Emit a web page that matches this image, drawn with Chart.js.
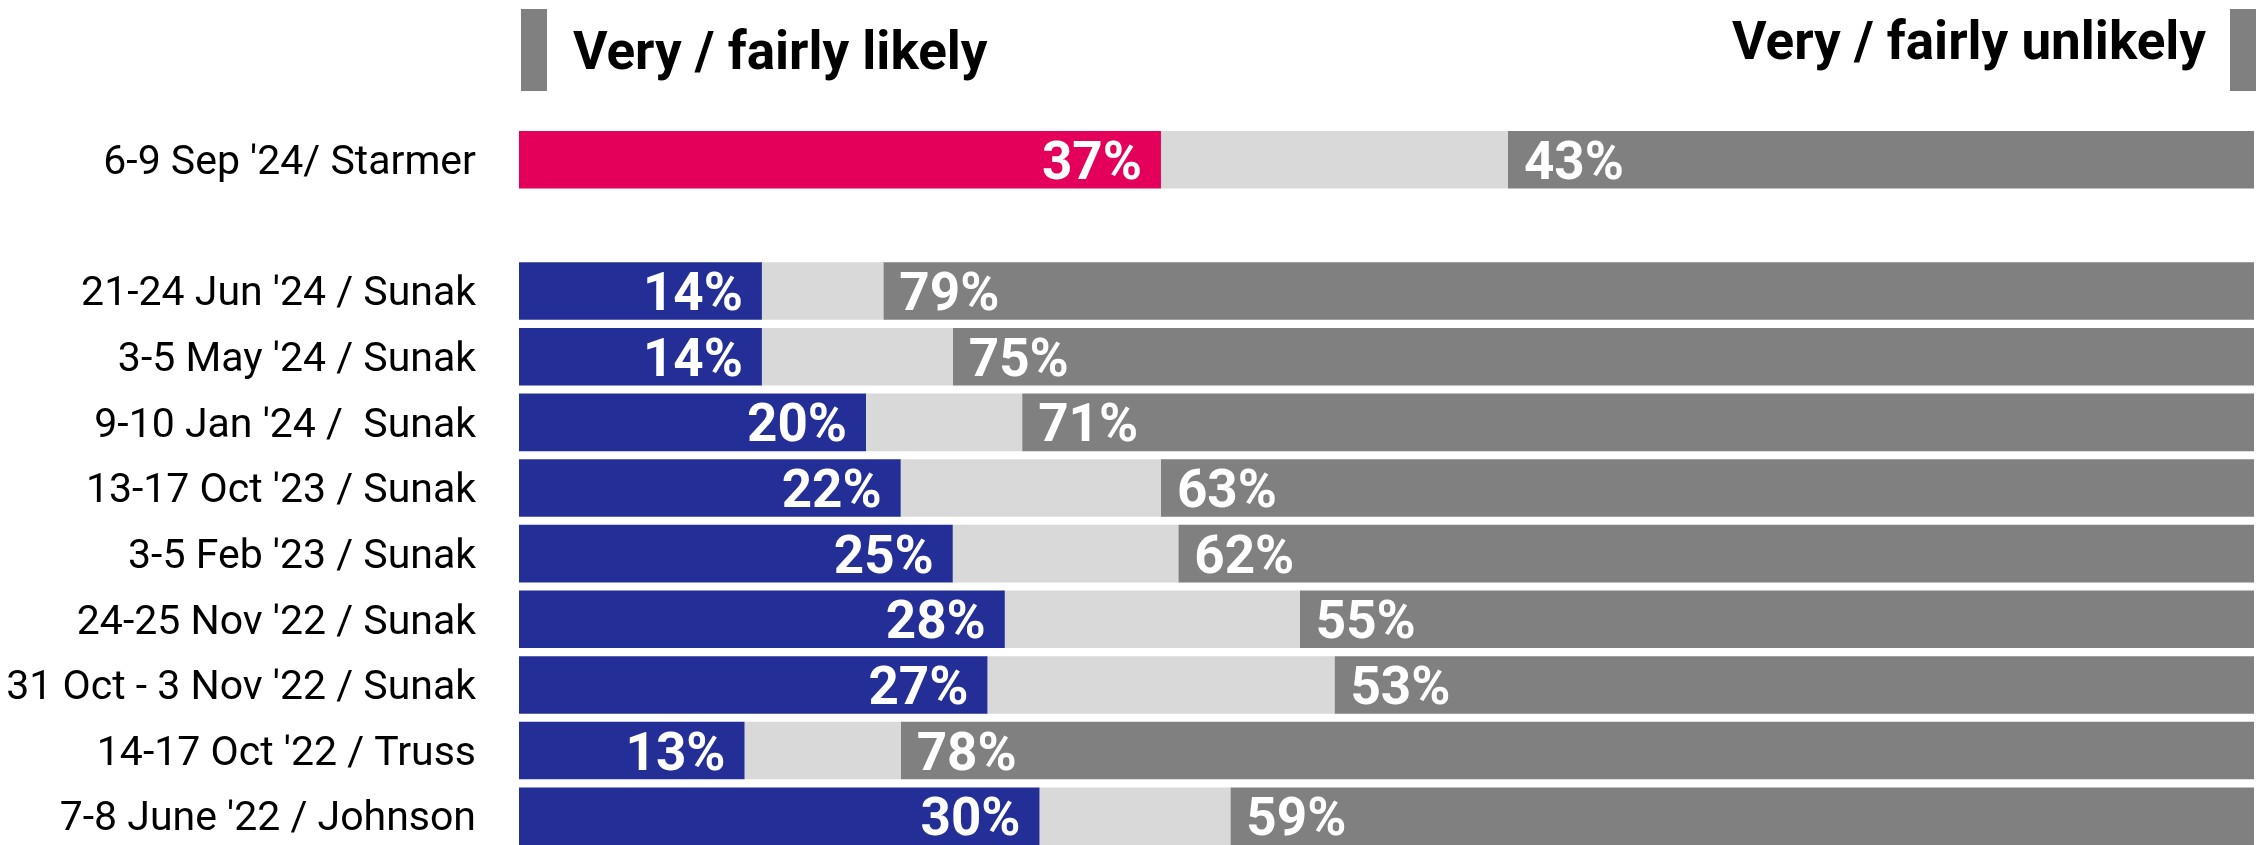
<!DOCTYPE html>
<html>
<head>
<meta charset="utf-8">
<script src="https://cdn.jsdelivr.net/npm/chart.js@4.4.1/dist/chart.umd.min.js"></script>
<style>
  html, body { margin: 0; padding: 0; background: #fff; overflow: hidden; width: 2256px; height: 845px; }
  #wrap { position: absolute; left: 0; top: 0; width: 2256px; height: 849px; }
  .marker { position: absolute; background: #808080; width: 26px; top: 9px; height: 82px; }
</style>
</head>
<body>
<div id="wrap"><canvas id="chart" width="2256" height="849"></canvas></div>
<div class="marker" style="left:521px"></div>
<div class="marker" style="left:2230px"></div>
<script>
const FONT = 'Roboto, "DejaVu Sans", sans-serif';

const categories = [
    "6-9 Sep '24/ Starmer",
    "",
    "21-24 Jun '24 / Sunak",
    "3-5 May '24 / Sunak",
    "9-10 Jan '24 /  Sunak",
    "13-17 Oct '23 / Sunak",
    "3-5 Feb '23 / Sunak",
    "24-25 Nov '22 / Sunak",
    "31 Oct - 3 Nov '22 / Sunak",
    "14-17 Oct '22 / Truss",
    "7-8 June '22 / Johnson"
];
const likely   = [37, null, 14, 14, 20, 22, 25, 28, 27, 13, 30];
const dontKnow = [20, null,  7, 11,  9, 15, 13, 17, 20,  9, 11];
const unlikely = [43, null, 79, 75, 71, 63, 62, 55, 53, 78, 59];
const likelyColors = ["#E4005A", null, "#232F96", "#232F96", "#232F96", "#232F96",
                      "#232F96", "#232F96", "#232F96", "#232F96", "#232F96"];

const headerPlugin = {
    id: "headers",
    afterDraw(chart) {
        const c = chart.ctx;
        c.save();
        c.fillStyle = "#000";
        c.font = "bold 53px " + FONT;
        c.textBaseline = "alphabetic";
        c.textAlign = "left";
        c.fillText("Very / fairly likely", 573, 69);
        c.textAlign = "right";
        c.fillText("Very / fairly unlikely", 2206, 59);
        c.restore();
    }
};

const valueLabels = {
    id: "valueLabels",
    afterDatasetsDraw(chart) {
        const c = chart.ctx;
        c.save();
        c.fillStyle = "#fff";
        c.font = "bold 53px " + FONT;
        c.textBaseline = "alphabetic";
        const likeMeta = chart.getDatasetMeta(0);
        const unMeta = chart.getDatasetMeta(2);
        likeMeta.data.forEach((bar, i) => {
            if (likely[i] == null) return;
            c.textAlign = "right";
            c.fillText(likely[i] + "%", bar.x - 19, bar.y + 19);
        });
        unMeta.data.forEach((bar, i) => {
            if (unlikely[i] == null) return;
            c.textAlign = "left";
            c.fillText(unlikely[i] + "%", bar.base + 16, bar.y + 19);
        });
        c.restore();
    }
};

new Chart(document.getElementById("chart"), {
    type: "bar",
    data: {
        labels: categories,
        datasets: [
            { label: "Very / fairly likely", data: likely, backgroundColor: likelyColors },
            { label: "Don't know", data: dontKnow, backgroundColor: "#D9D9D9" },
            { label: "Very / fairly unlikely", data: unlikely, backgroundColor: "#808080" }
        ]
    },
    options: {
        indexAxis: "y",
        responsive: false,
        animation: false,
        events: [],
        layout: { padding: { top: 127, right: 2, bottom: 0, left: 0 } },
        datasets: { bar: { categoryPercentage: 1, barPercentage: 0.877, borderWidth: 0 } },
        plugins: { legend: { display: false }, tooltip: { enabled: false } },
        scales: {
            x: { stacked: true, min: 0, max: 100, display: false },
            y: {
                stacked: true,
                grid: { display: false, drawTicks: false },
                border: { display: false },
                afterFit(scale) {
                    scale.width = 519;
                    scale.paddingTop = 0;
                    scale.paddingBottom = 0;
                },
                ticks: { color: "#000", padding: 43, labelOffset: 4, font: { family: FONT, size: 41 } }
            }
        }
    },
    plugins: [valueLabels, headerPlugin]
});
</script>
</body>
</html>
